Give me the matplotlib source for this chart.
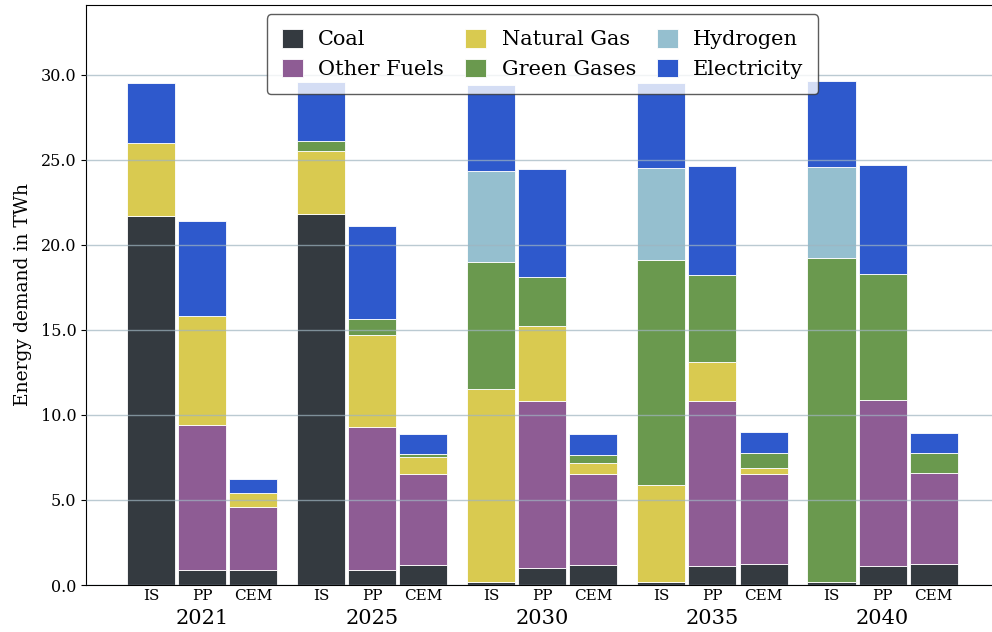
import matplotlib.pyplot as plt
import numpy as np

years = ["2021", "2025", "2030", "2035", "2040"]
sectors = ["IS", "PP", "CEM"]
carriers = ["Coal", "Other Fuels", "Natural Gas", "Green Gases", "Hydrogen", "Electricity"]
colors = ["#343a40", "#8e5c94", "#d9ca50", "#6a994e", "#95bfcf", "#2e59cc"]

# values per bar, order: 2021 IS/PP/CEM, 2025 IS/PP/CEM, ...
coal = [21.7, 0.9, 0.9,  21.8, 0.9, 1.2,  0.2, 1.0, 1.2,  0.2, 1.1, 1.25,  0.2, 1.1, 1.25]
other_fuels = [0.0, 8.5, 3.7,  0.0, 8.4, 5.3,  0.0, 9.8, 5.3,  0.0, 9.7, 5.3,  0.0, 9.8, 5.35]
natural_gas = [4.3, 6.4, 0.8,  3.7, 5.4, 1.0,  11.3, 4.4, 0.7,  5.7, 2.3, 0.35,  0.0, 0.0, 0.0]
green_gases = [0.0, 0.0, 0.0,  0.6, 0.95, 0.2,  7.5, 2.9, 0.45,  13.2, 5.15, 0.85,  19.0, 7.4, 1.15]
hydrogen = [0.0, 0.0, 0.0,  0.0, 0.0, 0.0,  5.35, 0.0, 0.0,  5.4, 0.0, 0.0,  5.4, 0.0, 0.0]
electricity = [3.5, 5.6, 0.85,  3.5, 5.45, 1.2,  5.05, 6.35, 1.25,  5.0, 6.4, 1.25,  5.05, 6.4, 1.2]

series = [coal, other_fuels, natural_gas, green_gases, hydrogen, electricity]

plt.rcParams['font.family'] = 'DejaVu Serif'

fig = plt.figure(figsize=(9.92, 6.32), dpi=100)
ax = fig.add_axes([86 / 992, 47 / 632, 1 - 86 / 992 + 0.002, (585 - 5) / 632])

group_step = 3.33
x = np.array([g * group_step + j for g in range(len(years)) for j in range(len(sectors))])

bottom = np.zeros(len(x))
for name, vals, col in zip(carriers, series, colors):
    vals = np.array(vals)
    ax.bar(x, vals, width=0.94, bottom=bottom, color=col, label=name,
           edgecolor="white", linewidth=0.6)
    bottom += vals

ax.set_xlim(-1.27, x[-1] + 1.18)
ax.set_ylim(0, 34.1)
ax.set_yticks(np.arange(0, 31, 5))
ax.set_yticklabels(["%.1f" % v for v in np.arange(0, 31, 5)], fontsize=11.5)
ax.set_ylabel("Energy demand in TWh", fontsize=13.5, labelpad=6)

ax.set_xticks(x)
ax.set_xticklabels(sectors * len(years), fontsize=11)
ax.tick_params(axis="x", length=0, pad=3)

for g, yr in enumerate(years):
    ax.text(g * group_step + 1, -0.042, yr, transform=ax.get_xaxis_transform(),
            ha="center", va="top", fontsize=15)

ax.set_axisbelow(False)
ax.yaxis.grid(True, color="#9fb4c0", linewidth=1.0, alpha=0.7)
ax.xaxis.grid(False)

leg = ax.legend(loc="upper center", ncol=3, fontsize=15, handlelength=1.0,
                handleheight=1.0, handletextpad=0.75, framealpha=0.8, edgecolor="#333333",
                bbox_to_anchor=(0.503, 1.0), borderaxespad=0.45, borderpad=0.7,
                labelspacing=0.45, columnspacing=1.0)
leg.get_frame().set_linewidth(1.0)

fig.savefig("out.png", dpi=100)
